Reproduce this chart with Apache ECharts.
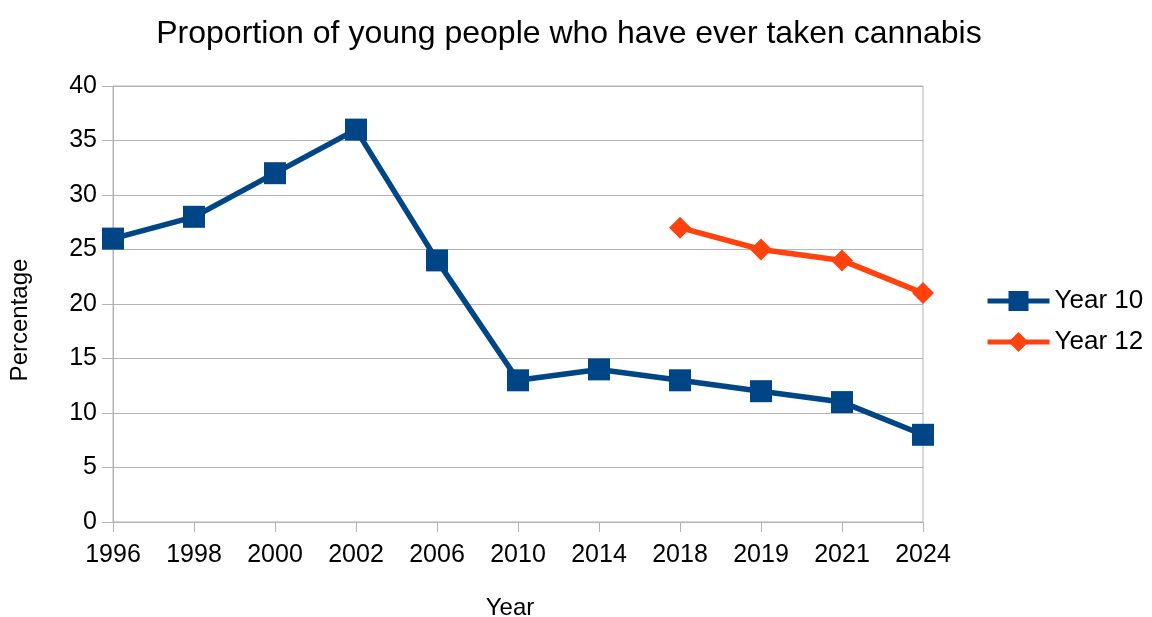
<!DOCTYPE html>
<html><head><meta charset="utf-8">
<script src="https://cdn.jsdelivr.net/npm/echarts@6/dist/echarts.min.js"></script>
<style>html,body{margin:0;padding:0;background:#fff}#c{width:1152px;height:617px}</style>
</head><body><div id="c"></div>
<script>
const years = ['1996','1998','2000','2002','2006','2010','2014','2018','2019','2021','2024'];
const year10 = [26, 28, 32, 36, 24, 13, 14, 13, 12, 11, 8];
const year12 = [null, null, null, null, null, null, null, 27, 25, 24, 21];
const yTicks = {min: 0, max: 40, interval: 5};

const FONT = '"Liberation Sans", Arial, sans-serif';
const chart = echarts.init(document.getElementById('c'), null, {renderer: 'canvas'});
chart.setOption({
  animation: false,
  textStyle: {fontFamily: FONT, color: '#000'},
  title: {text: 'Proportion of young people who have ever taken cannabis', left: 564, textAlign: 'center', top: 13,
    textStyle: {fontFamily: FONT, fontSize: 32, fontWeight: 'normal', color: '#000'}},
  grid: {left: 113, right: 229, top: 86, bottom: 95, show: true, borderColor: '#b3b3b3', borderWidth: 1,
    containLabel: false, outerBoundsMode: 'none'},
  legend: {orient: 'vertical', left: 980, top: 283, itemWidth: 62, itemHeight: 25, itemGap: 15,
    lineStyle: {width: 5},
    textStyle: {fontFamily: FONT, fontSize: 26, color: '#000'}, data: ['Year 10', 'Year 12']},
  xAxis: {type: 'category', data: years, boundaryGap: false,
    name: 'Year', nameLocation: 'middle', nameGap: 74,
    nameTextStyle: {fontFamily: FONT, fontSize: 24, color: '#000', padding: [0, 16, 0, 0]},
    axisLine: {lineStyle: {color: '#b3b3b3'}}, axisTick: {length: 10, lineStyle: {color: '#b3b3b3'}},
    axisLabel: {fontFamily: FONT, fontSize: 25, color: '#000', margin: 21}},
  yAxis: {type: 'value', min: yTicks.min, max: yTicks.max, interval: yTicks.interval,
    name: 'Percentage', nameLocation: 'middle', nameGap: 81,
    nameTextStyle: {fontFamily: FONT, fontSize: 24, color: '#000', padding: [0, 32, 0, 0]},
    axisLine: {show: true, lineStyle: {color: '#b3b3b3'}}, axisTick: {show: true, length: 11, lineStyle: {color: '#b3b3b3'}},
    splitLine: {lineStyle: {color: '#b3b3b3'}},
    axisLabel: {fontFamily: FONT, fontSize: 25, color: '#000', margin: 16}},
  series: [
    {name: 'Year 10', type: 'line', data: year10, symbol: 'rect', symbolSize: 22,
      lineStyle: {width: 5.5, color: '#004586'}, itemStyle: {color: '#004586'}},
    {name: 'Year 12', type: 'line', data: year12, symbol: 'diamond', symbolSize: 22,
      lineStyle: {width: 5.5, color: '#ff420e'}, itemStyle: {color: '#ff420e'}}
  ]
});
</script></body></html>
